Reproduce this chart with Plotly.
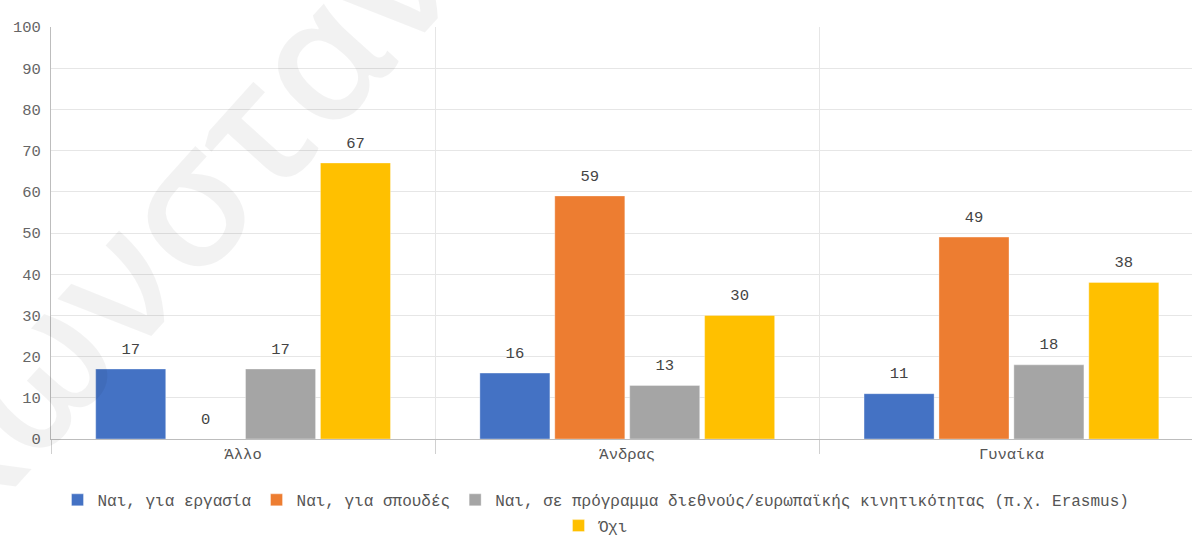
import plotly.graph_objects as go

categories = ["Άλλο", "Άνδρας", "Γυναίκα"]
series_names = [
    "Ναι, για εργασία",
    "Ναι, για σπουδές",
    "Ναι, σε πρόγραμμα διεθνούς/ευρωπαϊκής κινητικότητας (π.χ. Erasmus)",
    "Όχι",
]
work = [17, 16, 11]
studies = [0, 59, 49]
erasmus = [17, 13, 18]
no = [67, 30, 38]
colors = ["#4472C4", "#ED7D31", "#A5A5A5", "#FFC000"]
legend_ids = ["legend", "legend", "legend", "legend2"]
y_ticks = list(range(0, 101, 10))

FONT = "Liberation Mono"
FS = 15.5

fig = go.Figure()
for name, vals, col, lg in zip(series_names, [work, studies, erasmus, no], colors, legend_ids):
    fig.add_trace(go.Bar(
        x=categories, y=vals, name=name, legend=lg,
        marker=dict(color=col, line=dict(color="rgba(255,255,255,0.35)", width=1)),
        text=vals,
        texttemplate="<span style='font-size:15.5px'>%{y}</span><br> ",
        textposition="outside",
        textfont=dict(family=FONT, size=8, color="#444444"),
        cliponaxis=False,
    ))

fig.add_annotation(
    text="Κωνσταν", xref="paper", yref="paper", x=0.097, y=0.525,
    xanchor="center", yanchor="middle",
    showarrow=False, textangle=-48,
    font=dict(family="Open Sans", size=175, color="rgba(0,0,0,0.05)", weight=600),
)

legend_font = dict(family=FONT, size=16, color="#555555")
fig.update_layout(
    width=1192, height=537, autosize=False,
    barmode="group", bargap=0.22, bargroupgap=0.065,
    plot_bgcolor="white", paper_bgcolor="white",
    margin=dict(l=51, r=0, t=27, b=98, autoexpand=False),
    font=dict(family=FONT, size=FS, color="#555555"),
    legend=dict(
        orientation="h", xref="container", yref="container",
        x=0.5, xanchor="center", y=0.069, yanchor="middle",
        font=legend_font, traceorder="normal",
    ),
    legend2=dict(
        orientation="h", xref="container", yref="container",
        x=0.5, xanchor="center", y=0.021, yanchor="middle",
        font=legend_font,
    ),
    xaxis=dict(
        range=[-0.5, 2.47], tickson="boundaries", ticks="outside", ticklen=14,
        tickcolor="#d0d0d0", showgrid=True, gridcolor="#e6e6e6",
        showline=True, linecolor="#bdbdbd", zeroline=False, automargin=False,
        tickfont=dict(family=FONT, size=FS, color="#555555"),
    ),
    yaxis=dict(
        range=[0, 100], tickvals=y_ticks, showgrid=True, gridcolor="#e6e6e6",
        showline=True, linecolor="#bdbdbd", zeroline=False, automargin=False,
        ticks="", ticklabelstandoff=6,
        tickfont=dict(family=FONT, size=FS, color="#666666"),
    ),
)

fig.write_html(
    "out.html",
    config={"displayModeBar": False},
    post_script="document.body.style.margin='0';document.body.style.overflow='hidden';",
)
